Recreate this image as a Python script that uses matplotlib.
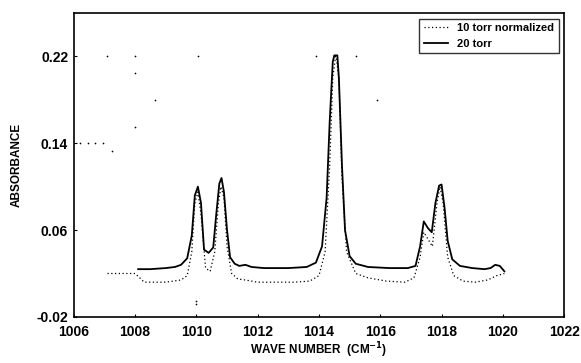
import numpy as np
import matplotlib
matplotlib.use("Agg")
import matplotlib.pyplot as plt

plt.rcParams["font.family"] = ["Liberation Sans", "DejaVu Sans"]
plt.rcParams["font.weight"] = "bold"

# 20 torr spectrum (solid)
wn_20 = [1008.1, 1008.5, 1009.0, 1009.3, 1009.5, 1009.7, 1009.85, 1009.95, 1010.05, 1010.15,
         1010.25, 1010.4, 1010.55, 1010.65, 1010.75, 1010.82, 1010.9, 1011.0, 1011.1, 1011.25,
         1011.4, 1011.6, 1011.8, 1012.2, 1013.0, 1013.6, 1013.9, 1014.1, 1014.25, 1014.35,
         1014.45, 1014.5, 1014.6, 1014.65, 1014.75, 1014.85, 1015.0, 1015.2, 1015.6, 1016.3,
         1016.9, 1017.15, 1017.3, 1017.42, 1017.55, 1017.68, 1017.8, 1017.92, 1018.0, 1018.1,
         1018.2, 1018.35, 1018.6, 1019.0, 1019.4, 1019.6, 1019.75, 1019.9, 1020.05]
abs_20 = [0.024, 0.024, 0.025, 0.026, 0.028, 0.034, 0.055, 0.092, 0.100, 0.085,
          0.042, 0.039, 0.044, 0.075, 0.103, 0.108, 0.095, 0.060, 0.035, 0.029,
          0.027, 0.028, 0.026, 0.025, 0.025, 0.026, 0.030, 0.045, 0.090, 0.160,
          0.215, 0.221, 0.221, 0.200, 0.120, 0.060, 0.036, 0.029, 0.026, 0.025,
          0.025, 0.027, 0.045, 0.068, 0.062, 0.058, 0.085, 0.101, 0.102, 0.080,
          0.050, 0.033, 0.027, 0.025, 0.024, 0.025, 0.028, 0.027, 0.022]

# 10 torr spectrum, normalized (dotted)
wn_10 = [1007.1, 1007.5, 1008.0, 1008.3, 1009.0, 1009.5, 1009.7, 1009.85, 1009.95, 1010.05,
         1010.15, 1010.3, 1010.45, 1010.6, 1010.72, 1010.8, 1010.9, 1011.0, 1011.15, 1011.35,
         1011.6, 1012.0, 1012.6, 1013.2, 1013.7, 1014.0, 1014.2, 1014.35, 1014.45, 1014.55,
         1014.65, 1014.75, 1014.9, 1015.2, 1015.6, 1016.2, 1016.8, 1017.1, 1017.3, 1017.42,
         1017.55, 1017.7, 1017.85, 1017.95, 1018.05, 1018.2, 1018.4, 1018.7, 1019.1, 1019.5,
         1019.8, 1020.05]
abs_10 = [0.020, 0.020, 0.020, 0.012, 0.012, 0.014, 0.018, 0.040, 0.085, 0.095,
          0.075, 0.025, 0.022, 0.040, 0.085, 0.100, 0.090, 0.045, 0.020, 0.015,
          0.014, 0.012, 0.012, 0.012, 0.013, 0.018, 0.040, 0.120, 0.200, 0.222,
          0.200, 0.110, 0.040, 0.020, 0.016, 0.013, 0.012, 0.016, 0.035, 0.058,
          0.052, 0.045, 0.085, 0.100, 0.085, 0.035, 0.018, 0.013, 0.012, 0.014,
          0.018, 0.020]

# stray specks in the scanned print
speck_x = [1007.1, 1008.0, 1010.05, 1008.0, 1008.65, 1008.0, 1006.2, 1006.45, 1006.7,
           1006.95, 1007.25, 1013.9, 1015.2, 1015.9, 1010.0, 1010.0]
speck_y = [0.220, 0.220, 0.220, 0.205, 0.180, 0.155, 0.140, 0.140, 0.140,
           0.140, 0.133, 0.220, 0.220, 0.180, -0.005, -0.008]

fig, ax = plt.subplots(figsize=(5.81, 3.63), dpi=100)
fig.subplots_adjust(left=0.127, right=0.971, top=0.964, bottom=0.127)

ax.plot(wn_10, abs_10, color="black", linestyle=(0, (1, 2)), linewidth=0.9,
        label="10 torr normalized")
ax.plot(wn_20, abs_20, color="black", linewidth=1.3, label="20 torr")
ax.scatter(speck_x, speck_y, s=1.5, color="black", linewidths=0)

ax.set_xlim(1006, 1022)
ax.set_ylim(-0.02, 0.26)
ax.set_xticks(np.arange(1006, 1023, 2))
ax.set_yticks([-0.02, 0.06, 0.14, 0.22])
ax.set_yticklabels(["-0.02", "0.06", "0.14", "0.22"])
ax.tick_params(direction="in", length=2, width=0.8, labelsize=10)
ax.tick_params(axis="x", pad=6)
ax.tick_params(axis="y", pad=4)
for lbl in ax.get_xticklabels() + ax.get_yticklabels():
    lbl.set_fontweight("bold")
for sp in ax.spines.values():
    sp.set_linewidth(1.2)

ax.set_xlabel("WAVE NUMBER  (CM$^{\\mathbf{-1}}$)", fontsize=8.5, fontweight="bold", labelpad=1)
ax.set_ylabel("ABSORBANCE", fontsize=8.5, fontweight="bold", labelpad=10)

leg = ax.legend(loc="upper right", fontsize=8, frameon=True, fancybox=False,
                edgecolor="black", handlelength=2.2, borderaxespad=0.5,
                prop={"weight": "bold", "size": 8})
leg.get_frame().set_linewidth(1.0)

fig.savefig("out.png", dpi=100)
